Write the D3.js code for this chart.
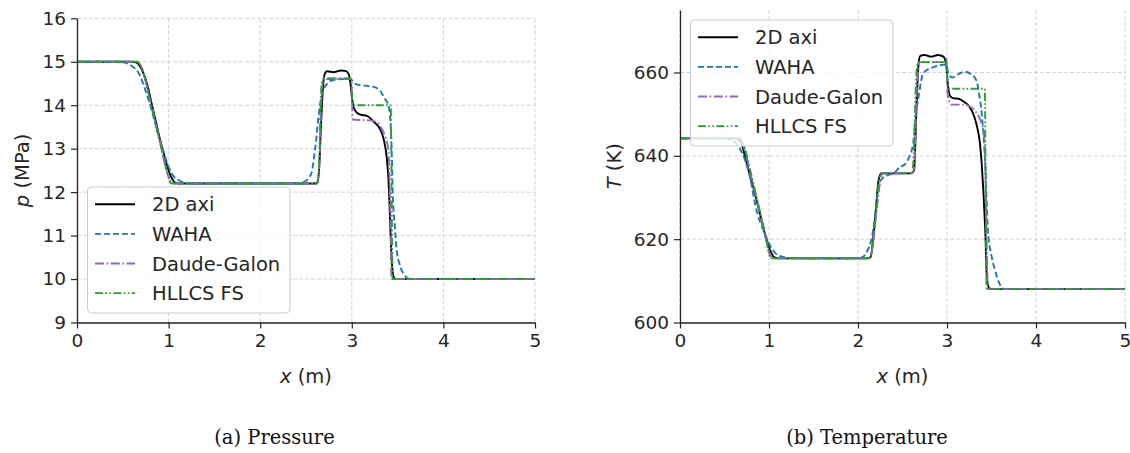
<!DOCTYPE html>
<html><head><meta charset="utf-8">
<script src="https://cdn.jsdelivr.net/npm/d3@7/dist/d3.min.js"></script>
<style>body{margin:0;background:#fff} svg{display:block}</style>
</head><body>
<svg id="c" width="1130" height="453"></svg>
<script>
// ---------- data ----------
const seriesNames = ["2D axi", "WAHA", "Daude-Galon", "HLLCS FS"];
const xTicks = [0, 1, 2, 3, 4, 5];
const pTicks = [9, 10, 11, 12, 13, 14, 15, 16];
const tTicks = [600, 620, 640, 660];
const captions = ["(a) Pressure", "(b) Temperature"];

// Pressure (MPa)
const pAxiX = [0, 0.6, 0.65, 0.7, 0.76, 0.83, 0.925, 1.0, 1.04, 1.07, 1.1, 2.6, 2.625, 2.645, 2.665, 2.685, 2.705, 2.73, 2.8, 2.88, 2.93, 2.965, 2.985, 3.0, 3.02, 3.06, 3.1, 3.16, 3.24, 3.31, 3.35, 3.38, 3.40, 3.41, 3.43, 3.45, 3.47, 3.5, 5];
const pAxiY = [15, 15, 14.98, 14.85, 14.52, 13.9, 13.05, 12.5, 12.3, 12.22, 12.2, 12.2, 12.22, 12.6, 13.6, 14.4, 14.72, 14.78, 14.76, 14.8, 14.79, 14.72, 14.5, 14.2, 13.95, 13.82, 13.78, 13.76, 13.62, 13.44, 13.2, 12.82, 12.3, 11.82, 10.67, 10.1, 10.01, 10, 10];
const pWahaX = [0, 0.45, 0.52, 0.6, 0.67, 0.78, 0.906, 1.015, 1.06, 1.106, 1.16, 1.23, 1.3, 2.4, 2.49, 2.53, 2.56, 2.6, 2.65, 2.71, 2.8, 2.9, 2.98, 3.05, 3.15, 3.27, 3.32, 3.36, 3.40, 3.43, 3.45, 3.47, 3.49, 3.52, 3.545, 3.58, 3.62, 3.7, 5];
const pWahaY = [15, 15, 14.98, 14.9, 14.75, 14.13, 13.2, 12.51, 12.35, 12.28, 12.23, 12.21, 12.2, 12.2, 12.25, 12.33, 12.44, 13.0, 13.97, 14.44, 14.58, 14.6, 14.6, 14.48, 14.45, 14.40, 14.3, 14.15, 14.0, 13.3, 11.82, 11.2, 10.67, 10.35, 10.2, 10.08, 10.01, 10, 10];
const pDaudeX = [0, 0.65, 0.7, 0.8, 0.9, 1.0, 1.04, 2.62, 2.645, 2.67, 2.69, 2.99, 3.0, 3.01, 3.2, 3.28, 3.33, 3.37, 3.40, 3.415, 3.425, 3.43, 3.44, 5];
const pDaudeY = [15, 15, 14.9, 14.1, 13.2, 12.35, 12.2, 12.2, 12.6, 14.2, 14.62, 14.62, 14.3, 13.67, 13.65, 13.6, 13.45, 13.25, 12.97, 12.0, 11.0, 10.2, 10, 10];
const pHllcsX = [0, 0.66, 0.7, 0.8, 0.9, 1.0, 1.03, 2.62, 2.64, 2.665, 2.68, 2.995, 3.005, 3.02, 3.425, 3.435, 3.445, 5];
const pHllcsY = [15, 15, 14.88, 14.1, 13.2, 12.35, 12.2, 12.2, 12.5, 14.3, 14.6, 14.6, 14.1, 14.0, 14.0, 12.0, 10.0, 10];

// Temperature (K)
const tAxiX = [0, 0.62, 0.68, 0.74, 0.81, 0.888, 0.963, 1.02, 1.056, 1.1, 2.1, 2.14, 2.17, 2.2, 2.23, 2.26, 2.6, 2.63, 2.655, 2.68, 2.7, 2.75, 2.82, 2.9, 2.96, 2.99, 3.01, 3.04, 3.08, 3.13, 3.19, 3.24, 3.29, 3.33, 3.37, 3.39, 3.41, 3.43, 3.45, 3.48, 3.52, 5];
const tAxiY = [644.2, 644.2, 643.5, 639, 633.5, 627, 620.6, 617, 615.7, 615.4, 615.4, 615.6, 620, 627, 634, 635.8, 635.8, 636.5, 650, 662, 664, 664.2, 663.8, 664.2, 663.8, 662, 657, 654.2, 653.8, 653.7, 653, 652.1, 650.3, 647.7, 643, 638.1, 631, 622.1, 610.1, 608.1, 608, 608];
const tWahaX = [0, 0.5, 0.55, 0.61, 0.67, 0.73, 0.79, 0.85, 0.95, 1.0, 1.075, 1.13, 1.19, 1.3, 2.0, 2.06, 2.1, 2.157, 2.2, 2.23, 2.27, 2.34, 2.4, 2.47, 2.53, 2.57, 2.62, 2.65, 2.68, 2.73, 2.79, 2.85, 2.92, 2.99, 3.02, 3.06, 3.12, 3.2, 3.27, 3.33, 3.36, 3.39, 3.43, 3.46, 3.5, 3.54, 3.58, 3.63, 3.7, 5];
const tWahaY = [644.2, 644.2, 644, 643.4, 641.8, 639, 634.5, 627.8, 621.5, 619, 616.6, 615.9, 615.6, 615.4, 615.4, 615.8, 617, 620.6, 627, 632.6, 634.5, 635.4, 635.8, 637.3, 638, 639.5, 643, 650, 654.1, 659.7, 660.8, 661.3, 661.8, 661.9, 659.5, 658.8, 659.5, 660.2, 659.6, 658.1, 655, 650.1, 638, 622, 616, 612.5, 609.8, 608.1, 608, 608];
const tDaudeX = [0, 0.66, 0.7, 0.8, 0.9, 0.97, 1.02, 1.05, 2.12, 2.15, 2.2, 2.25, 2.27, 2.6, 2.63, 2.66, 2.69, 2.97, 2.995, 3.0, 3.01, 3.05, 3.2, 3.26, 3.33, 3.38, 3.41, 3.43, 3.44, 3.45, 3.46, 5];
const tDaudeY = [644.2, 644.2, 643, 635, 626, 619.5, 615.8, 615.4, 615.4, 616.5, 625, 634, 635.8, 635.8, 637, 655, 662.5, 662.5, 663.4, 658, 654.5, 652.3, 652.3, 651.8, 650.4, 648.3, 646.1, 638, 628, 615, 608, 608];
const tHllcsX = [0, 0.67, 0.71, 0.8, 0.9, 0.97, 1.0, 1.03, 2.12, 2.15, 2.2, 2.24, 2.26, 2.61, 2.625, 2.65, 2.67, 2.995, 3.005, 3.02, 3.425, 3.435, 3.445, 5];
const tHllcsY = [644.2, 644.2, 643, 635.5, 626.5, 620, 616.5, 615.4, 615.4, 616.5, 626, 634.5, 635.8, 635.8, 640, 657, 662.5, 662.5, 658, 656.1, 656.1, 630, 608, 608];

// ---------- styles ----------
const styles = [
  {color: "#000000", dash: null},
  {color: "#1f77b4", dash: "6,3"},
  {color: "#9467bd", dash: "9,2.6,1.6,2.6"},
  {color: "#2ca02c", dash: "8,2.4,1.6,2.4,1.6,2.4"}
];
const FONT = "'DejaVu Sans', sans-serif";
const INK = "#262626";
const LW = 1.9;

const svg = d3.select("#c");
const zip = (xs, ys) => xs.map((x, i) => [x, ys[i]]);

const panels = [
  {
    x0: 77, x1: 535, yTop: 18.3, yBot: 322.5, ydom: [9, 16], yticks: pTicks,
    series: [zip(pAxiX, pAxiY), zip(pWahaX, pWahaY), zip(pDaudeX, pDaudeY), zip(pHllcsX, pHllcsY)],
    ylab: ["p", " (MPa)"], ylabX: 29, legend: {x: 87.5, y: 187}, caption: captions[0], capX: 274.5
  },
  {
    x0: 680, x1: 1125, yTop: 10, yBot: 322.5, ydom: [600, 675], yticks: tTicks,
    series: [zip(tAxiX, tAxiY), zip(tWahaX, tWahaY), zip(tDaudeX, tDaudeY), zip(tHllcsX, tHllcsY)],
    ylab: ["T", " (K)"], ylabX: 621, legend: {x: 690.5, y: 20}, caption: captions[1], capX: 867
  }
];

panels.forEach((P, pi) => {
  const x = d3.scaleLinear().domain([0, 5]).range([P.x0, P.x1]);
  const y = d3.scaleLinear().domain(P.ydom).range([P.yBot, P.yTop]);
  const g = svg.append("g");

  // grid
  const grid = g.append("g").attr("stroke", "#d0d0d0").attr("stroke-width", 0.9).attr("stroke-dasharray", "4,2");
  xTicks.forEach(t => grid.append("line").attr("x1", x(t)).attr("x2", x(t)).attr("y1", P.yTop).attr("y2", P.yBot));
  P.yticks.forEach(t => grid.append("line").attr("x1", P.x0).attr("x2", P.x1).attr("y1", y(t)).attr("y2", y(t)));

  // clip
  const cid = "clip" + pi;
  svg.append("clipPath").attr("id", cid).append("rect")
    .attr("x", P.x0).attr("y", P.yTop - 2).attr("width", P.x1 - P.x0 + 2).attr("height", P.yBot - P.yTop + 2);

  // lines
  const line = d3.line().x(d => x(d[0])).y(d => y(d[1])).curve(d3.curveMonotoneX);
  const lg = g.append("g").attr("clip-path", `url(#${cid})`);
  P.series.forEach((s, i) => {
    lg.append("path").datum(s).attr("d", line).attr("fill", "none")
      .attr("stroke", styles[i].color).attr("stroke-width", LW)
      .attr("stroke-dasharray", styles[i].dash).attr("stroke-linejoin", "round");
  });

  // axes
  const ax = g.append("g").attr("transform", `translate(0,${P.yBot})`)
    .call(d3.axisBottom(x).tickValues(xTicks).tickFormat(d3.format("d")).tickSize(6).tickSizeOuter(0).tickPadding(5));
  const ay = g.append("g").attr("transform", `translate(${P.x0},0)`)
    .call(d3.axisLeft(y).tickValues(P.yticks).tickFormat(d3.format("d")).tickSize(6).tickSizeOuter(0).tickPadding(5));
  [ax, ay].forEach(a => {
    a.select(".domain").attr("stroke", INK).attr("stroke-width", 1.3);
    a.selectAll(".tick line").attr("stroke", INK).attr("stroke-width", 1.2);
    a.selectAll(".tick text").attr("fill", INK).style("font-family", FONT).style("font-size", "18.5px");
  });

  // x label
  const xl = svg.append("text").attr("x", (P.x0 + P.x1) / 2).attr("y", 383)
    .attr("text-anchor", "middle").attr("fill", INK).style("font-family", FONT).style("font-size", "19.5px");
  xl.append("tspan").style("font-style", "italic").text("x");
  xl.append("tspan").text(" (m)");

  // y label
  const yl = svg.append("text").attr("transform", `translate(${P.ylabX},${(P.yTop + P.yBot) / 2}) rotate(-90)`)
    .attr("text-anchor", "middle").attr("fill", INK).style("font-family", FONT).style("font-size", "19.5px");
  yl.append("tspan").style("font-style", "italic").text(P.ylab[0]);
  yl.append("tspan").text(P.ylab[1]);

  // legend
  const L = svg.append("g").attr("transform", `translate(${P.legend.x},${P.legend.y})`);
  L.append("rect").attr("width", 202.5).attr("height", 126).attr("rx", 4)
    .attr("fill", "#ffffff").attr("fill-opacity", 0.8).attr("stroke", "#cccccc").attr("stroke-width", 1);
  seriesNames.forEach((name, i) => {
    const cy = 17.3 + i * 29.6;
    L.append("line").attr("x1", 7.5).attr("x2", 47.5).attr("y1", cy).attr("y2", cy)
      .attr("stroke", styles[i].color).attr("stroke-width", LW).attr("stroke-dasharray", styles[i].dash);
    L.append("text").attr("x", 64.5).attr("y", cy).attr("dy", "0.36em").attr("fill", INK)
      .style("font-family", FONT).style("font-size", "19.5px").text(name);
  });

  // caption
  svg.append("text").attr("x", P.capX).attr("y", 443.5).attr("text-anchor", "middle").attr("fill", "#111")
    .style("font-family", "'DejaVu Serif', serif").style("font-size", "19.5px").text(P.caption);
});
</script>
</body></html>
